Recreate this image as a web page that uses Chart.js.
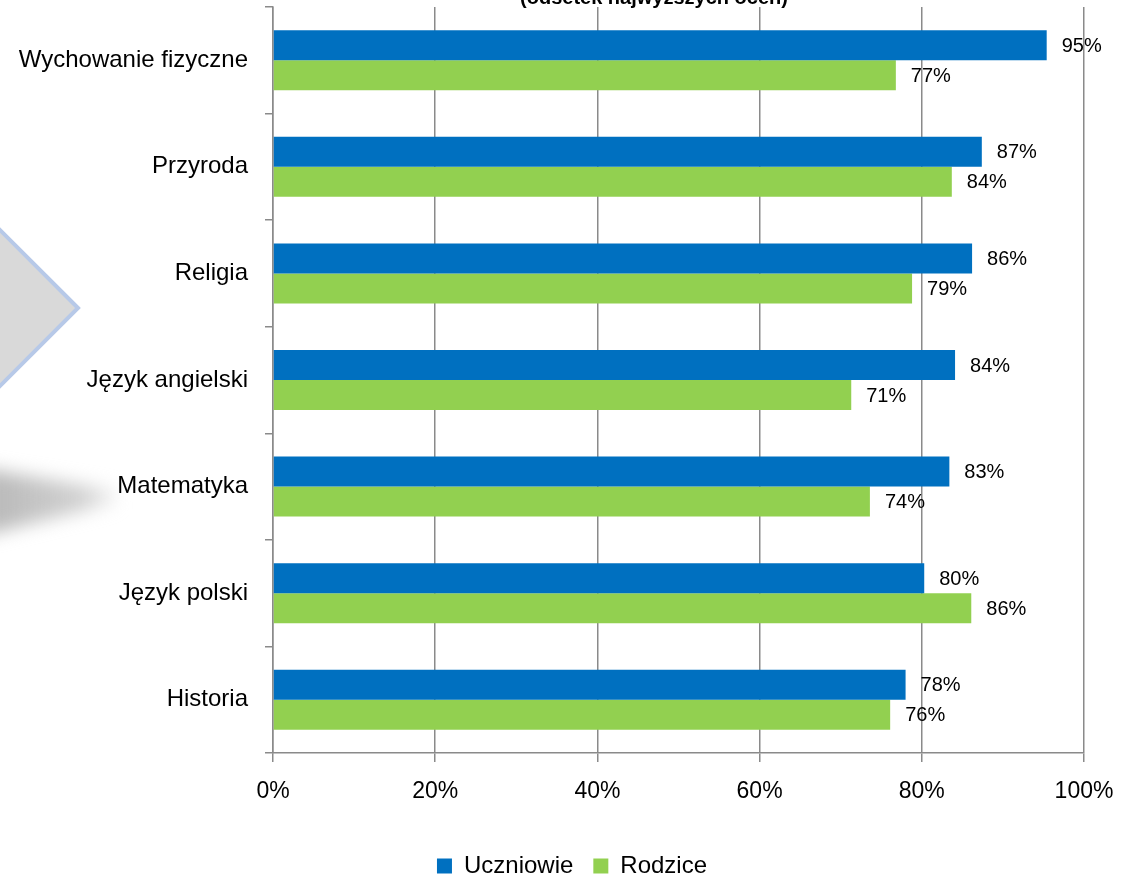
<!DOCTYPE html>
<html><head><meta charset="utf-8">
<script src="https://cdn.jsdelivr.net/npm/chart.js@4.4.0/dist/chart.umd.min.js"></script>
<style>html,body{margin:0;padding:0;background:#fff;overflow:hidden}#wrap{position:relative;width:1132px;height:877px}</style>
</head><body><div id="wrap"><canvas id="c" width="1132" height="877"></canvas></div>
<script>
const categories = ['Wychowanie fizyczne', 'Przyroda', 'Religia', 'Język angielski', 'Matematyka', 'Język polski', 'Historia'];
const seriesNames = ['Uczniowie', 'Rodzice'];
const uczniowie = [95.4, 87.4, 86.2, 84.1, 83.4, 80.3, 78.0];
const rodzice = [76.8, 83.7, 78.8, 71.3, 73.6, 86.1, 76.1];
const xTickValues = [0, 20, 40, 60, 80, 100];
const titleText = '(odsetek najwyższych ocen)';

const FONT = "'Liberation Sans', Arial, sans-serif";
const GRID = '#8a8a8a';

const decorPlugin = {
  id: 'decor',
  afterLayout(chart) {
    if (chart.legend) { chart.legend.left += 30; chart.legend.right += 30; }
  },
  beforeDraw(chart) {
    const ctx = chart.ctx;
    ctx.save();
    ctx.beginPath();
    ctx.moveTo(78, 308);
    ctx.lineTo(-4, 226);
    ctx.lineTo(-86, 308);
    ctx.lineTo(-4, 390);
    ctx.closePath();
    ctx.fillStyle = '#d9d9d9';
    ctx.fill();
    ctx.lineWidth = 4;
    ctx.strokeStyle = '#b7c9e8';
    ctx.stroke();
    ctx.filter = 'blur(9px)';
    const g = ctx.createLinearGradient(0, 0, 120, 0);
    g.addColorStop(0, 'rgba(175,175,175,0.85)');
    g.addColorStop(0.7, 'rgba(190,190,190,0.7)');
    g.addColorStop(1, 'rgba(215,215,215,0.3)');
    ctx.beginPath();
    ctx.moveTo(-20, 468);
    ctx.lineTo(115, 490);
    ctx.lineTo(115, 503);
    ctx.lineTo(-20, 536);
    ctx.closePath();
    ctx.fillStyle = g;
    ctx.fill();
    ctx.restore();
  },
  afterDraw(chart) {
    const ctx = chart.ctx;
    ctx.save();
    ctx.font = "bold 20px " + FONT;
    ctx.fillStyle = '#000';
    ctx.textAlign = 'center';
    ctx.textBaseline = 'alphabetic';
    ctx.fillText(titleText, 654, 4);
    ctx.restore();
  }
};

const valueLabels = {
  id: 'valueLabels',
  afterDatasetsDraw(chart) {
    const ctx = chart.ctx;
    ctx.save();
    ctx.font = "20px " + FONT;
    ctx.fillStyle = '#000';
    ctx.textAlign = 'left';
    ctx.textBaseline = 'middle';
    chart.data.datasets.forEach((ds, di) => {
      const meta = chart.getDatasetMeta(di);
      meta.data.forEach((el, i) => {
        ctx.fillText(Math.round(ds.data[i]) + '%', el.x + 15, el.y + 1);
      });
    });
    ctx.restore();
  }
};

new Chart(document.getElementById('c'), {
  type: 'bar',
  data: {
    labels: categories,
    datasets: [
      { label: seriesNames[0], data: uczniowie, backgroundColor: '#0070c0', borderWidth: 0 },
      { label: seriesNames[1], data: rodzice, backgroundColor: '#92d050', borderWidth: 0 }
    ]
  },
  options: {
    indexAxis: 'y',
    responsive: false,
    animation: false,
    devicePixelRatio: 1,
    layout: { padding: { top: 7, right: 48, left: 0, bottom: -11 } },
    datasets: { bar: { barPercentage: 1, categoryPercentage: 0.563 } },
    scales: {
      x: {
        min: 0, max: 100,
        afterBuildTicks(scale) { scale.ticks = xTickValues.map(v => ({ value: v })); },
        afterFit(scale) { scale.height = 81; },
        ticks: { callback: v => v + '%', color: '#000', font: { family: FONT, size: 23 }, padding: 16 },
        grid: { color: GRID, lineWidth: 1.5, tickLength: 9, drawTicks: true },
        border: { color: GRID, width: 1.5 }
      },
      y: {
        afterFit(scale) { scale.width = 273; scale.paddingTop = 0; scale.paddingBottom = 0; },
        ticks: { color: '#000', font: { family: FONT, size: 24 }, padding: 17 },
        grid: { drawOnChartArea: false, drawTicks: true, tickLength: 8, color: GRID, lineWidth: 1.5, offset: true },
        border: { color: GRID, width: 1.5 }
      }
    },
    plugins: {
      legend: {
        position: 'bottom',
        labels: { boxWidth: 15, boxHeight: 15, color: '#000', font: { family: FONT, size: 24 }, padding: 20 }
      },
      tooltip: { enabled: false },
      title: { display: false }
    }
  },
  plugins: [decorPlugin, valueLabels]
});
</script>
</body></html>
